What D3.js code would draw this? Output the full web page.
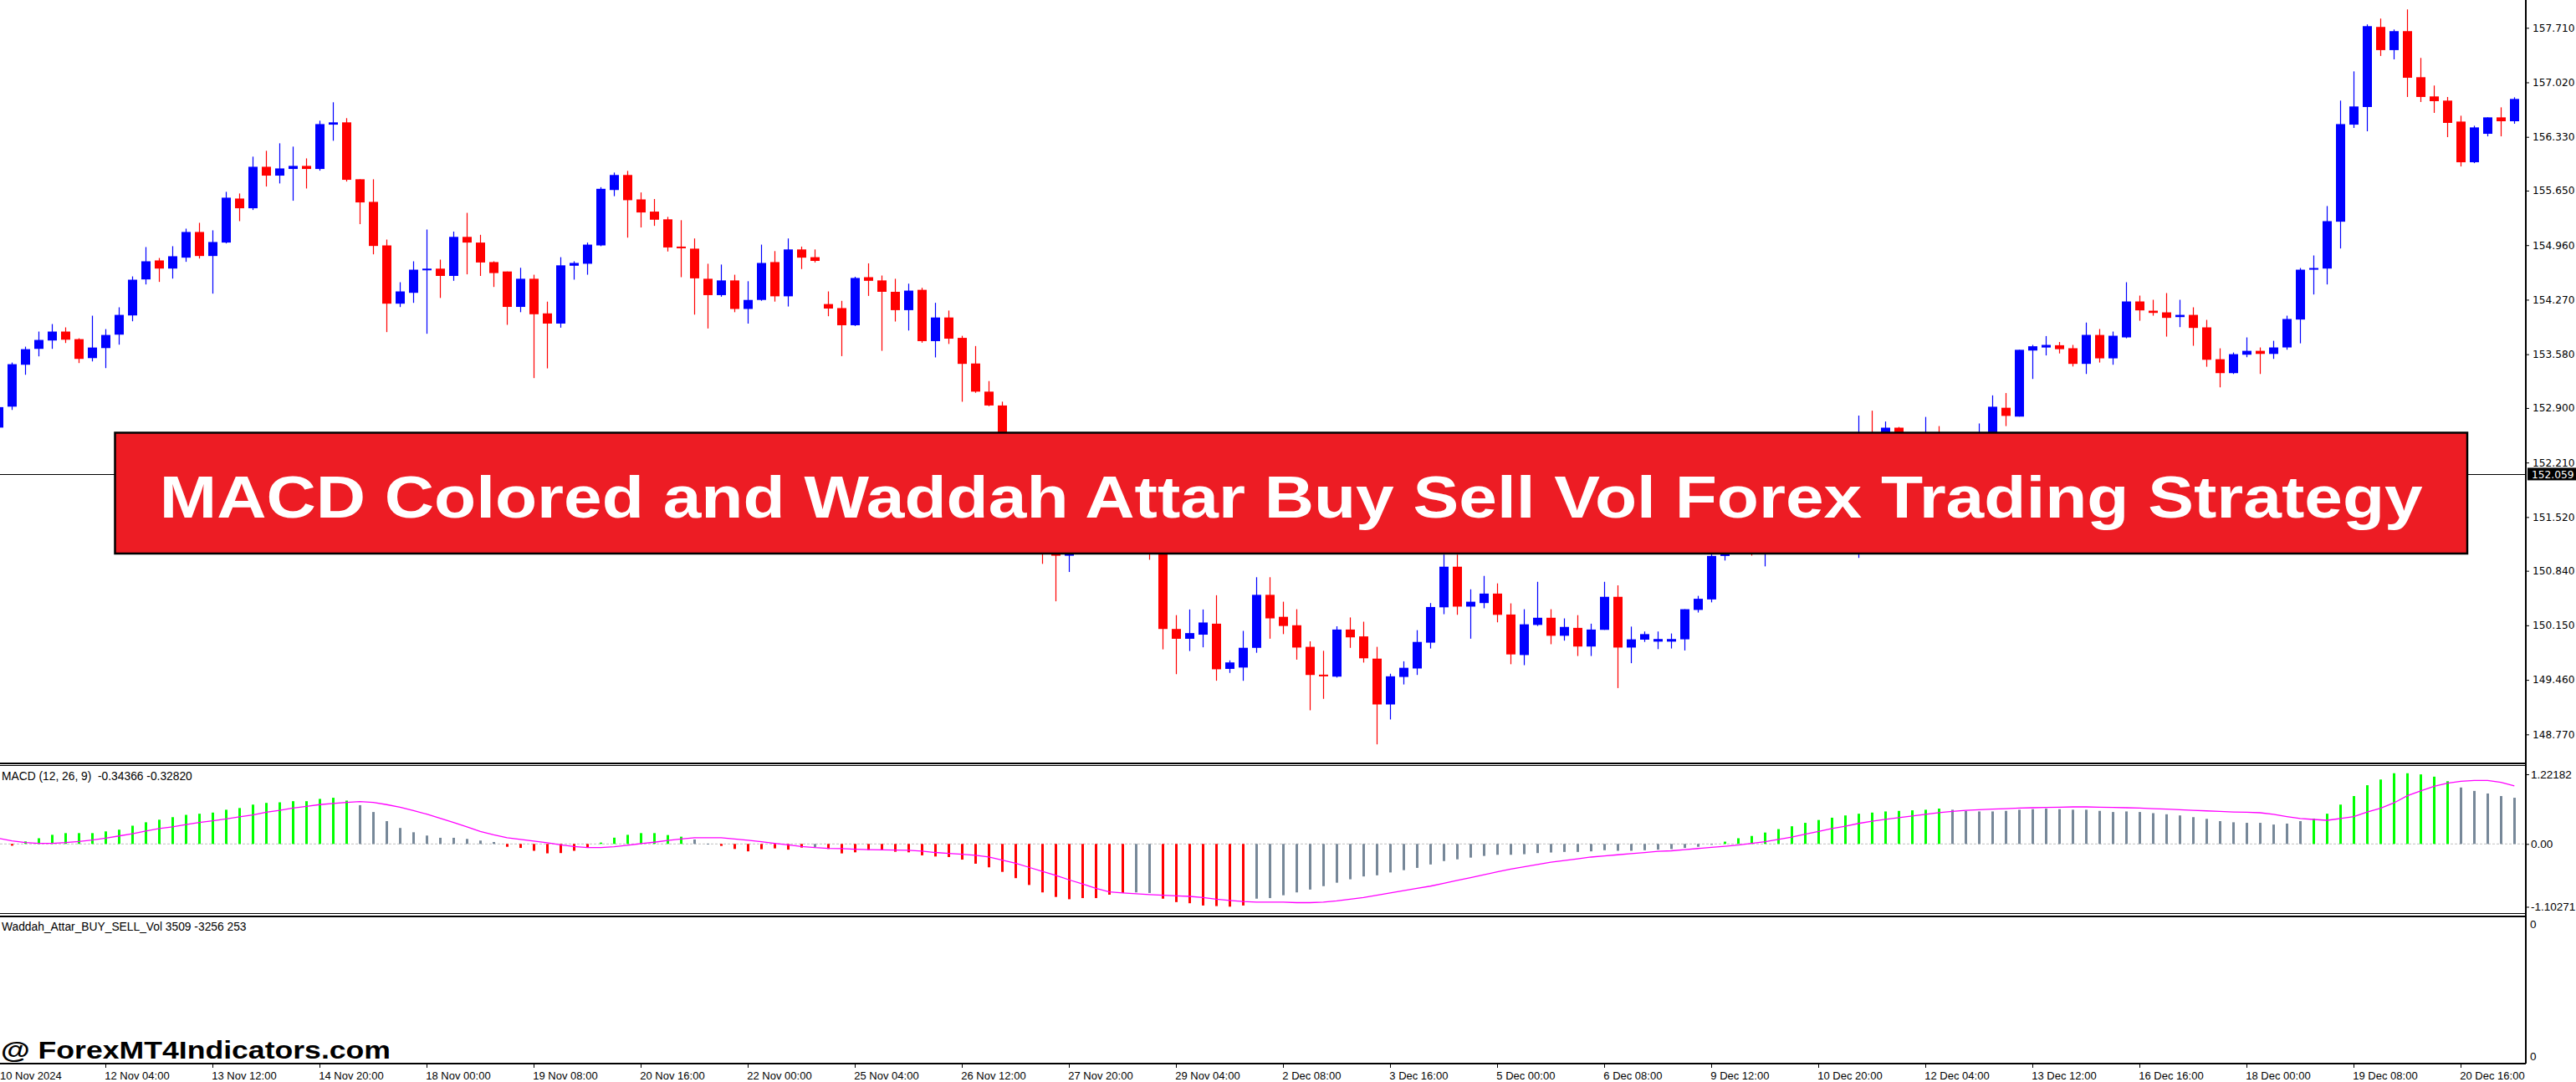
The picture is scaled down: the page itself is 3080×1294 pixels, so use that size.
<!DOCTYPE html>
<html><head><meta charset="utf-8">
<script src="https://cdn.jsdelivr.net/npm/d3@7"></script>
<style>html,body{margin:0;padding:0;background:#fff;overflow:hidden}svg{display:block}</style>
</head><body>
<svg id="c" width="3080" height="1294"></svg>
<script>
// ---------------- DATA ----------------
const timeLabels = ["10 Nov 2024","12 Nov 04:00","13 Nov 12:00","14 Nov 20:00","18 Nov 00:00","19 Nov 08:00","20 Nov 16:00","22 Nov 00:00","25 Nov 04:00","26 Nov 12:00","27 Nov 20:00","29 Nov 04:00","2 Dec 08:00","3 Dec 16:00","5 Dec 00:00","6 Dec 08:00","9 Dec 12:00","10 Dec 20:00","12 Dec 04:00","13 Dec 12:00","16 Dec 16:00","18 Dec 00:00","19 Dec 08:00","20 Dec 16:00"];
const timeLabelBars = [0,8,16,24,32,40,48,56,64,72,80,88,96,104,112,120,128,136,144,152,160,168,176,184];
const priceTicks = [157.710,157.020,156.330,155.650,154.960,154.270,153.580,152.900,152.210,151.520,150.840,150.150,149.460,148.770];
const macdTicks = [1.22182, 0, -1.10271];
const macdTickText = ["1.22182","0.00","-1.10271"];
const currentPrice = 152.059;
const titleText = "MACD Colored and Waddah Attar Buy Sell Vol Forex Trading Strategy";
const macdTitle = "MACD (12, 26, 9)  -0.34366 -0.32820";
const waddahTitle = "Waddah_Attar_BUY_SELL_Vol 3509 -3256 253";
const watermark = "@ ForexMT4Indicators.com";

const open = [152.652,152.917,153.447,153.648,153.754,153.867,153.771,153.531,153.658,153.828,
154.071,154.527,154.767,154.664,154.802,155.127,154.823,154.993,155.550,155.427,
155.952,155.840,155.924,155.963,155.924,156.485,156.514,155.794,155.508,154.957,
154.220,154.357,154.643,154.663,154.571,155.065,154.993,154.746,154.627,154.179,
154.535,154.097,153.968,154.700,154.725,154.957,155.658,155.848,155.539,155.385,
155.287,154.942,154.916,154.535,154.328,154.514,154.153,154.267,154.746,154.313,
154.906,154.808,154.215,154.164,153.947,154.555,154.514,154.370,154.138,154.395,
153.746,154.045,153.787,153.463,153.107,152.932,152.35,151.95,151.60,151.25,
151.031,151.30,151.55,151.45,151.60,151.40,151.50,151.20,150.104,149.980,
150.032,150.171,149.599,149.616,149.865,150.536,150.258,150.151,149.878,149.526,
149.501,150.097,150.010,149.729,149.149,149.497,149.604,149.931,150.378,150.892,
150.387,150.432,150.552,150.287,149.774,150.155,150.246,150.018,150.118,149.882,
150.093,150.511,149.869,149.969,149.944,149.944,149.973,150.345,150.478,151.028,
151.45,151.80,151.55,151.90,152.10,152.00,152.25,152.35,152.20,152.40,
152.50,152.30,152.651,152.45,152.40,152.50,152.35,152.45,152.40,152.50,
152.903,152.791,153.627,153.665,153.694,153.656,153.458,153.824,153.528,153.793,
154.248,154.131,154.110,154.050,154.078,153.920,153.517,153.341,153.574,153.623,
153.584,153.666,154.019,154.650,154.664,155.257,156.485,156.708,157.721,157.428,
157.668,157.085,156.842,156.789,156.524,156.009,156.369,156.577,156.528];
const high = [152.95,153.475,153.676,153.867,153.962,153.920,153.782,154.068,153.898,154.174,
154.565,154.936,154.798,154.947,155.169,155.243,155.148,155.635,155.614,156.080,
156.154,156.249,156.207,156.058,156.535,156.768,156.567,155.794,155.794,155.031,
154.491,154.756,155.158,154.777,155.132,155.369,155.091,154.756,154.627,154.674,
154.586,154.246,154.808,154.756,154.993,155.694,155.879,155.900,155.627,155.544,
155.318,155.276,155.045,154.725,154.715,154.586,154.504,154.967,154.885,155.045,
154.942,154.906,154.375,154.256,154.560,154.730,154.576,154.535,154.473,154.421,
154.231,154.133,153.813,153.684,153.241,152.98,152.45,152.05,151.70,151.40,
151.40,151.65,151.70,151.75,151.70,151.60,151.60,151.30,150.279,150.351,
150.351,150.531,149.707,150.080,150.759,150.759,150.449,150.354,149.948,149.828,
150.138,150.250,150.196,149.878,149.538,149.695,150.089,150.432,151.045,151.045,
150.606,150.776,150.681,150.428,150.354,150.701,150.354,150.238,150.279,150.171,
150.701,150.656,150.134,150.072,150.072,150.047,150.354,150.523,151.061,151.55,
151.90,151.95,152.00,152.20,152.25,152.35,152.45,152.45,152.50,152.804,
152.866,152.729,152.66,152.55,152.787,152.671,152.55,152.55,152.704,153.060,
153.089,153.636,153.698,153.810,153.735,153.698,153.981,153.899,153.867,154.491,
154.322,154.269,154.354,154.269,154.174,154.015,153.655,153.602,153.793,153.666,
153.750,154.068,154.671,154.830,155.455,156.789,157.159,157.753,157.827,157.689,
157.943,157.329,156.980,156.835,156.598,156.471,156.577,156.704,156.831];
const low = [152.60,152.875,153.320,153.553,153.648,153.722,153.468,153.489,153.404,153.701,
153.997,154.463,154.495,154.537,154.749,154.791,154.347,154.982,155.264,155.405,
155.702,155.741,155.522,155.677,155.903,156.281,155.765,155.226,154.844,153.860,
154.177,154.230,153.839,154.292,154.509,154.591,154.571,154.431,153.952,154.112,
153.278,153.401,153.916,154.524,154.586,154.947,155.580,155.055,155.184,155.204,
154.880,154.555,154.081,153.906,154.308,154.112,153.968,154.256,154.246,154.184,
154.658,154.741,154.061,153.556,153.937,154.318,153.623,153.994,153.880,153.726,
153.540,153.710,152.979,153.092,152.922,152.30,151.85,151.50,150.928,150.454,
150.825,151.20,151.30,151.35,151.30,151.25,150.980,149.846,149.532,149.825,
149.872,149.449,149.548,149.448,149.803,149.981,150.039,149.716,149.075,149.220,
149.489,149.865,149.679,148.644,148.959,149.402,149.522,149.857,150.291,150.283,
149.981,150.366,150.188,149.658,149.646,150.142,149.911,149.956,149.762,149.762,
150.093,149.356,149.671,149.940,149.849,149.857,149.832,150.312,150.441,150.970,
151.35,151.032,150.896,151.80,151.90,151.90,152.15,152.10,152.10,151.003,
152.20,152.20,152.35,152.30,152.30,152.25,152.25,152.30,152.30,152.40,
152.671,152.791,153.267,153.565,153.590,153.425,153.330,153.475,153.447,153.782,
154.004,154.068,153.803,153.923,153.687,153.422,153.161,153.330,153.542,153.330,
153.521,153.637,153.718,154.336,154.463,154.918,156.443,156.401,157.354,157.311,
156.835,156.771,156.634,156.327,155.956,155.998,156.337,156.337,156.496];
const close = [152.911,153.454,153.644,153.761,153.867,153.764,153.521,153.665,153.824,154.078,
154.523,154.756,154.664,154.820,155.127,154.823,155.000,155.561,155.427,155.952,
155.840,155.931,155.963,155.924,156.492,156.514,155.787,155.501,154.950,154.220,
154.375,154.650,154.663,154.571,155.065,154.993,154.741,154.607,154.179,154.535,
154.086,153.968,154.705,154.735,154.967,155.673,155.848,155.529,155.374,155.282,
154.931,154.926,154.540,154.328,154.514,154.153,154.267,154.735,154.313,154.906,
154.802,154.761,154.158,153.947,154.545,154.509,154.370,154.138,154.385,153.746,
154.045,153.777,153.458,153.107,152.932,152.35,151.95,151.60,151.25,151.031,
151.30,151.55,151.45,151.60,151.40,151.50,151.20,150.104,149.980,150.052,
150.186,149.594,149.681,149.866,150.536,150.238,150.142,149.869,149.522,149.509,
150.097,149.998,149.733,149.149,149.505,149.613,149.940,150.382,150.892,150.387,
150.449,150.552,150.283,149.782,150.163,150.246,150.018,150.130,149.882,150.097,
150.511,149.869,149.973,150.039,149.977,149.977,150.354,150.486,151.028,151.45,
151.80,151.55,151.90,152.10,152.00,152.25,152.35,152.20,152.40,152.50,
152.30,152.651,152.45,152.40,152.50,152.35,152.45,152.40,152.50,152.916,
152.800,153.636,153.681,153.698,153.644,153.458,153.825,153.528,153.814,154.248,
154.135,154.103,154.040,154.078,153.913,153.510,153.341,153.581,153.623,153.584,
153.666,154.026,154.650,154.671,155.264,156.492,156.715,157.731,157.428,157.668,
157.078,156.835,156.782,156.507,156.009,156.450,156.577,156.528,156.810];

const macdHist = [-0.01,-0.03,0.044,0.10,0.16,0.19,0.19,0.19,0.22,0.25,
0.32,0.38,0.425,0.47,0.51,0.53,0.55,0.60,0.63,0.69,
0.72,0.73,0.75,0.75,0.79,0.81,0.76,0.68,0.56,0.40,
0.28,0.205,0.147,0.108,0.108,0.088,0.059,0.034,-0.05,-0.07,
-0.12,-0.165,-0.16,-0.12,-0.064,0.024,0.11,0.16,0.19,0.19,
0.156,0.127,0.078,0.005,-0.034,-0.088,-0.13,-0.093,-0.078,-0.10,
-0.064,-0.06,-0.088,-0.166,-0.147,-0.107,-0.107,-0.137,-0.147,-0.20,
-0.22,-0.23,-0.275,-0.347,-0.41,-0.49,-0.60,-0.72,-0.85,-0.93,
-0.97,-0.95,-0.95,-0.89,-0.86,-0.85,-0.86,-0.96,-1.02,-1.04,
-1.08,-1.09,-1.10,-1.08,-0.96,-0.95,-0.90,-0.85,-0.80,-0.74,
-0.68,-0.62,-0.57,-0.55,-0.50,-0.46,-0.42,-0.36,-0.30,-0.27,
-0.24,-0.21,-0.19,-0.19,-0.18,-0.16,-0.15,-0.14,-0.14,-0.13,
-0.11,-0.12,-0.12,-0.11,-0.10,-0.09,-0.07,-0.05,-0.01,0.04,
0.10,0.14,0.20,0.26,0.31,0.37,0.42,0.46,0.50,0.53,
0.55,0.57,0.58,0.59,0.60,0.62,0.60,0.58,0.57,0.57,
0.58,0.60,0.61,0.62,0.61,0.60,0.60,0.58,0.56,0.57,
0.56,0.54,0.52,0.50,0.47,0.44,0.40,0.38,0.37,0.37,
0.34,0.357,0.40,0.445,0.53,0.69,0.84,1.03,1.13,1.24,
1.24,1.22,1.18,1.10,0.99,0.93,0.885,0.84,0.81];
const macdSignal = [0.098,0.054,0.024,0.01,0.01,0.024,0.044,0.068,0.10,0.14,
0.18,0.225,0.27,0.30,0.34,0.376,0.405,0.44,0.474,0.51,
0.557,0.59,0.63,0.66,0.69,0.71,0.73,0.743,0.73,0.69,
0.645,0.587,0.523,0.45,0.376,0.298,0.22,0.16,0.11,0.078,
0.05,0.02,-0.015,-0.044,-0.064,-0.064,-0.05,-0.024,0.005,0.03,
0.06,0.088,0.108,0.108,0.108,0.088,0.064,0.04,0.01,-0.015,
-0.044,-0.064,-0.078,-0.083,-0.093,-0.10,-0.105,-0.107,-0.112,-0.127,
-0.15,-0.166,-0.18,-0.20,-0.23,-0.283,-0.34,-0.41,-0.48,-0.55,
-0.63,-0.70,-0.78,-0.84,-0.86,-0.875,-0.89,-0.90,-0.91,-0.92,
-0.94,-0.97,-0.99,-1.01,-1.02,-1.02,-1.02,-1.03,-1.03,-1.02,
-1.00,-0.97,-0.94,-0.90,-0.86,-0.82,-0.78,-0.74,-0.69,-0.64,
-0.59,-0.54,-0.49,-0.44,-0.40,-0.36,-0.32,-0.29,-0.26,-0.23,
-0.21,-0.19,-0.17,-0.15,-0.13,-0.12,-0.10,-0.08,-0.06,-0.04,
-0.02,0.01,0.04,0.08,0.12,0.17,0.22,0.27,0.31,0.36,
0.40,0.43,0.46,0.49,0.52,0.55,0.57,0.59,0.60,0.61,
0.62,0.63,0.635,0.64,0.645,0.65,0.65,0.645,0.64,0.635,
0.63,0.62,0.61,0.60,0.59,0.58,0.57,0.56,0.555,0.547,
0.52,0.48,0.445,0.43,0.415,0.445,0.48,0.56,0.626,0.72,
0.846,0.93,1.01,1.065,1.10,1.114,1.114,1.08,1.017];
// colour of each histogram bar as runs: g = lime, n = grey, r = red
const macdColorRuns = [["r",2],["g",25],["n",11],["r",7],["g",7],["n",2],["r",7],["n",1],["r",23],["n",2],["r",7],["n",35],["g",17],["n",27],["g",11],["n",5]];

// ---------------- LAYOUT ----------------
const W = 3080, H = 1294, axisX = 3020;
const mainBottom = 913, macdTop = 915.7, macdBottom = 1092.7, wadTop = 1096, timeAxisY = 1272;
const BULL = "#0000FF", BEAR = "#FF0000";
const macdCol = {g:"#00FF00", n:"#778899", r:"#FF0000"};
const macdColors = [];
macdColorRuns.forEach(([c,n]) => { for (let k=0;k<n;k++) macdColors.push(c); });
const uiFont = "Liberation Sans, Arial, sans-serif";
const axFont = "DejaVu Sans, Verdana, sans-serif";

const svg = d3.select("#c");
svg.append("rect").attr("width",W).attr("height",H).attr("fill","#fff");

const N = open.length;
const x = d3.scaleLinear().domain([0, N-1]).range([-1.7, -1.7 + 16*(N-1)]);
const yP = d3.scaleLinear().domain([148.403, 158.062]).range([mainBottom, 0]);
const yM = d3.scaleLinear().domain([-1.2233, 1.3728]).range([macdBottom, macdTop]);

const defs = svg.append("defs");
defs.append("clipPath").attr("id","clipMain").append("rect").attr("x",0).attr("y",0).attr("width",axisX).attr("height",mainBottom);
defs.append("clipPath").attr("id","clipMacd").append("rect").attr("x",0).attr("y",macdTop+0.5).attr("width",axisX).attr("height",macdBottom-macdTop-1);

// ---------------- MAIN PANEL ----------------
const gMain = svg.append("g").attr("clip-path","url(#clipMain)");
const bars = d3.range(N).map(i => ({i, o:open[i], h:high[i], l:low[i], c:close[i]}));
gMain.selectAll("line.wick").data(bars).join("line")
  .attr("x1", d => Math.round(x(d.i)) + 0.5).attr("x2", d => Math.round(x(d.i)) + 0.5)
  .attr("y1", d => yP(d.h)).attr("y2", d => yP(d.l))
  .attr("stroke", d => d.c >= d.o ? BULL : BEAR).attr("stroke-width", 1.2);
gMain.selectAll("rect.body").data(bars).join("rect")
  .attr("x", d => Math.round(x(d.i)) - 5).attr("width", 11)
  .attr("y", d => yP(Math.max(d.o,d.c)))
  .attr("height", d => Math.max(2, Math.abs(yP(d.o) - yP(d.c))))
  .attr("fill", d => d.c >= d.o ? BULL : BEAR);

// current price line
svg.append("line").attr("x1",0).attr("x2",axisX).attr("y1",Math.round(yP(currentPrice))+0.5).attr("y2",Math.round(yP(currentPrice))+0.5)
  .attr("stroke","#000").attr("stroke-width",1);

// ---------------- MACD PANEL ----------------
const gM = svg.append("g").attr("clip-path","url(#clipMacd)");
gM.append("line").attr("x1",0).attr("x2",axisX).attr("y1",yM(0)).attr("y2",yM(0))
  .attr("stroke","#C0C0C0").attr("stroke-width",1).attr("stroke-dasharray","3,2");
gM.selectAll("rect.h").data(macdHist).join("rect")
  .attr("x", (d,i) => Math.round(x(i)) - 1).attr("width", 3)
  .attr("y", d => Math.min(yM(d), yM(0)))
  .attr("height", d => Math.max(1, Math.abs(yM(d) - yM(0))))
  .attr("fill", (d,i) => macdCol[macdColors[i]]);
gM.append("path").datum(macdSignal)
  .attr("d", d3.line().x((d,i) => x(i)).y(d => yM(d)))
  .attr("fill","none").attr("stroke","#FF00FF").attr("stroke-width",1.3);

// ---------------- FRAMES ----------------
const frame = svg.append("g").attr("stroke","#000").attr("stroke-width",1.2).attr("shape-rendering","crispEdges");
[mainBottom, macdTop, macdBottom, wadTop].forEach(yy => frame.append("line").attr("x1",0).attr("x2",axisX).attr("y1",yy).attr("y2",yy));
frame.append("line").attr("x1",axisX).attr("x2",axisX).attr("y1",0).attr("y2",timeAxisY);
frame.append("line").attr("x1",0).attr("x2",axisX).attr("y1",timeAxisY).attr("y2",timeAxisY);

// ---------------- RIGHT PRICE AXIS ----------------
const axP = d3.axisRight(yP).tickValues(priceTicks).tickFormat(d3.format(".3f")).tickSize(4).tickPadding(4);
const gAx = svg.append("g").attr("transform",`translate(${axisX},0)`).call(axP);
gAx.select(".domain").remove();
gAx.selectAll("text").attr("font-family",axFont).attr("font-size",12.2).attr("fill","#000");
gAx.selectAll("line").attr("stroke","#000");

// current price tag
const cpY = yP(currentPrice);
svg.append("rect").attr("x",axisX+2).attr("y",cpY-8).attr("width",W-axisX-2).attr("height",15).attr("fill","#000");
svg.append("text").attr("x",axisX+7).attr("y",cpY+4.3).attr("fill","#fff").attr("font-family",axFont).attr("font-size",12.2)
  .text(d3.format(".3f")(currentPrice));

// ---------------- MACD AXIS ----------------
const axM = d3.axisRight(yM).tickValues(macdTicks).tickFormat((d,k) => macdTickText[k]).tickSize(4).tickPadding(2);
const gAxM = svg.append("g").attr("transform",`translate(${axisX},0)`).call(axM);
gAxM.select(".domain").remove();
gAxM.selectAll("text").attr("font-family",uiFont).attr("font-size",13.5).attr("fill","#000");
gAxM.selectAll("line").attr("stroke","#000");

// Waddah panel scale labels
svg.append("text").attr("x",axisX+5).attr("y",wadTop+14).attr("font-family",uiFont).attr("font-size",13.5).text("0");
svg.append("text").attr("x",axisX+5).attr("y",timeAxisY-4).attr("font-family",uiFont).attr("font-size",13.5).text("0");

// ---------------- PANEL TITLES ----------------
svg.append("text").attr("x",2).attr("y",933).attr("font-family",uiFont).attr("font-size",13.8).attr("fill","#000")
  .style("white-space","pre").text(macdTitle);
svg.append("text").attr("x",2).attr("y",1113).attr("font-family",uiFont).attr("font-size",13.8).attr("fill","#000")
  .style("white-space","pre").text(waddahTitle);

// ---------------- TIME AXIS ----------------
const gT = svg.append("g");
gT.selectAll("line").data(timeLabelBars.slice(1)).join("line")
  .attr("x1", d => Math.round(x(d))+0.5).attr("x2", d => Math.round(x(d))+0.5)
  .attr("y1", timeAxisY).attr("y2", timeAxisY+5).attr("stroke","#000");
gT.selectAll("text").data(timeLabels).join("text")
  .attr("x", (d,k) => Math.max(0, x(timeLabelBars[k]) - 1))
  .attr("y", 1291)
  .attr("font-family",uiFont).attr("font-size",13).attr("fill","#000")
  .text(d => d);

// ---------------- WATERMARK ----------------
svg.append("text").attr("x",1).attr("y",1266).attr("font-family",uiFont).attr("font-weight","bold")
  .attr("font-size",30).attr("textLength",466).attr("lengthAdjust","spacingAndGlyphs").attr("fill","#000").text(watermark);

// ---------------- BANNER ----------------
const bx0 = 137.5, bx1 = 2950, by0 = 517.5, by1 = 662;
svg.append("rect").attr("x",bx0).attr("y",by0).attr("width",bx1-bx0).attr("height",by1-by0)
  .attr("fill","#ED1C24").attr("stroke","#000").attr("stroke-width",2.5);
svg.append("text").attr("x",(bx0+bx1)/2).attr("y",618.5).attr("text-anchor","middle")
  .attr("font-family",uiFont).attr("font-weight","bold").attr("font-size",70)
  .attr("textLength",2706).attr("lengthAdjust","spacingAndGlyphs").attr("fill","#fff").text(titleText);
</script>
</body></html>
